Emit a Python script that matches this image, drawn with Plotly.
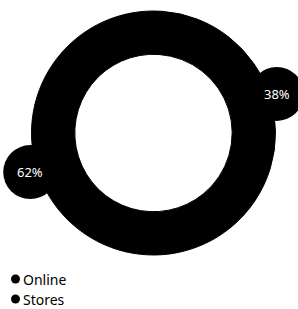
import math
import plotly.graph_objects as go

# ---- data ----
channels = ["Online", "Stores"]
shares = [38, 62]

# ---- layout constants (pixels) ----
W, H = 298, 309
CX, CY = 153.5, 133.0     # donut centre
R_OUT = 122.0             # outer radius
HOLE = 0.645
ROTATION = 4              # degrees
LABEL_R = 1.06 * R_OUT    # radius of label bubbles
BUBBLE_R = 27
FONT = "Noto Sans"
LEG_X, LEG_Y0, LEG_DY = 15.5, 279, 20

fig = go.Figure()

fig.add_trace(go.Pie(
    labels=channels,
    values=shares,
    hole=HOLE,
    sort=False,
    direction="clockwise",
    rotation=ROTATION,
    marker=dict(colors=["#000000", "#000000"], line=dict(color="#000000", width=1)),
    textinfo="none",
    hoverinfo="label+percent",
    showlegend=False,
    domain=dict(x=[(CX - R_OUT) / W, (CX + R_OUT) / W],
                y=[1 - (CY + R_OUT) / H, 1 - (CY - R_OUT) / H]),
))

# label bubbles placed at slice mid-angles computed from the data
total = sum(shares)
cum = 0
shapes, annotations = [], []
for v in shares:
    mid = ROTATION + (cum + v / 2) / total * 360
    cum += v
    a = math.radians(mid)
    x = CX + LABEL_R * math.sin(a)
    y = CY - LABEL_R * math.cos(a)
    shapes.append(dict(type="circle", xref="x", yref="y", layer="above",
                       x0=x - BUBBLE_R, x1=x + BUBBLE_R,
                       y0=y - BUBBLE_R, y1=y + BUBBLE_R,
                       fillcolor="black", line=dict(width=0)))
    annotations.append(dict(x=x, y=y, xref="x", yref="y", showarrow=False,
                            text=f"{round(v / total * 100)}%",
                            font=dict(color="white", size=13, family=FONT),
                            xanchor="center", yanchor="middle"))

# legend (dot + name)
leg_y = [LEG_Y0 + i * LEG_DY for i in range(len(channels))]
fig.add_trace(go.Scatter(
    x=[LEG_X] * len(channels), y=leg_y, mode="markers",
    marker=dict(symbol="circle", size=9, color="black"),
    hovertext=channels, hoverinfo="text", showlegend=False,
))
for name, y in zip(channels, leg_y):
    annotations.append(dict(x=LEG_X + 6, y=y, xref="x", yref="y", showarrow=False,
                            text=name, xanchor="left", yanchor="middle",
                            borderpad=0,
                            font=dict(color="black", size=14, family=FONT)))

fig.update_layout(
    width=W, height=H,
    margin=dict(l=0, r=0, t=0, b=0, autoexpand=False),
    paper_bgcolor="white", plot_bgcolor="white",
    xaxis=dict(range=[0, W], visible=False, fixedrange=True, domain=[0, 1]),
    yaxis=dict(range=[H, 0], visible=False, fixedrange=True, domain=[0, 1]),
    showlegend=False,
    shapes=shapes,
    annotations=annotations,
    font=dict(family=FONT),
)

fig.write_html("out.html",
               config={"displayModeBar": False},
               post_script="document.body.style.margin='0';document.body.style.overflow='hidden';")
